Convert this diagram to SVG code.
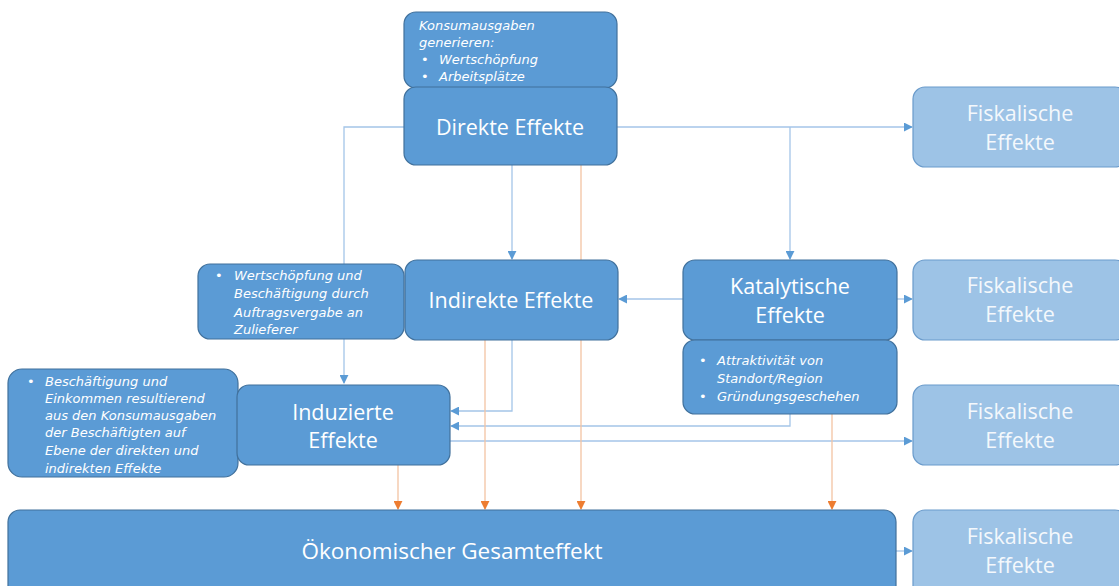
<svg xmlns="http://www.w3.org/2000/svg" width="1119" height="586" viewBox="0 0 1119 586">
  <style>
    .box { fill: #5B9BD5; stroke: #41719C; stroke-width: 1.2; }
    .fis { fill: #9DC3E6; stroke: #6A9BCB; stroke-width: 1.2; }
    .big { font-family: "Open Sans", "Liberation Sans", sans-serif; font-size: 21.5px; fill: #FFFFFF; text-anchor: middle; }
    .fbig { font-family: "Open Sans", "Liberation Sans", sans-serif; font-size: 21.5px; fill: #F4F8FC; text-anchor: middle; }
    .small { font-family: "DejaVu Sans", "Liberation Sans", sans-serif; font-size: 13px; font-style: italic; fill: #FFFFFF; }
    .bl { stroke: #A4C5E8; stroke-width: 1.3; fill: none; }
    .or { stroke: #F3C3A2; stroke-width: 1.3; fill: none; }
  </style>
  <defs>
    <marker id="arrB" viewBox="0 0 10 10" refX="9" refY="5" markerWidth="9" markerHeight="9" markerUnits="userSpaceOnUse" orient="auto">
      <path d="M0,0 L10,5 L0,10 Z" fill="#5B9BD5"/>
    </marker>
    <marker id="arrO" viewBox="0 0 10 10" refX="9" refY="5" markerWidth="9" markerHeight="9" markerUnits="userSpaceOnUse" orient="auto">
      <path d="M0,0 L10,5 L0,10 Z" fill="#ED7D31"/>
    </marker>
  </defs>
  <rect width="1119" height="586" fill="#FFFFFF"/>

  <!-- connectors -->
  <g id="connectors">
    <path class="bl" d="M404,127 H344 V383" marker-end="url(#arrB)"/>
    <path class="bl" d="M512,165 V259" marker-end="url(#arrB)"/>
    <path class="bl" d="M617,127 H912" marker-end="url(#arrB)"/>
    <path class="bl" d="M790,127 V259" marker-end="url(#arrB)"/>
    <path class="bl" d="M683,299 H619" marker-end="url(#arrB)"/>
    <path class="bl" d="M897,299 H912" marker-end="url(#arrB)"/>
    <path class="bl" d="M512,340 V411 H451" marker-end="url(#arrB)"/>
    <path class="bl" d="M790,414 V426 H451" marker-end="url(#arrB)"/>
    <path class="bl" d="M450,441 H912" marker-end="url(#arrB)"/>
    <path class="bl" d="M896,551 H912" marker-end="url(#arrB)"/>
    <path class="or" d="M398,465 V509" marker-end="url(#arrO)"/>
    <path class="or" d="M485,340 V509" marker-end="url(#arrO)"/>
    <path class="or" d="M581,165 V509" marker-end="url(#arrO)"/>
    <path class="or" d="M832,414 V509" marker-end="url(#arrO)"/>
  </g>

  <!-- Konsumausgaben note -->
  <g id="konsum">
    <rect class="box" x="404" y="12" width="213" height="76" rx="12"/>
    <text class="small" x="419" y="30">Konsumausgaben</text>
    <text class="small" x="419" y="47">generieren:</text>
    <text class="small" x="421" y="64">•</text>
    <text class="small" x="439" y="64">Wertschöpfung</text>
    <text class="small" x="421" y="81">•</text>
    <text class="small" x="439" y="81">Arbeitsplätze</text>
  </g>

  <g id="direkte">
    <rect class="box" x="404" y="87" width="213" height="78" rx="12"/>
    <text class="big" x="510" y="135">Direkte Effekte</text>
  </g>

  <g id="wertschoepfung">
    <rect class="box" x="198" y="264" width="206" height="75" rx="12"/>
    <text class="small" x="215" y="280">•</text>
    <text class="small" x="234" y="280">Wertschöpfung und</text>
    <text class="small" x="234" y="298">Beschäftigung durch</text>
    <text class="small" x="234" y="317">Auftragsvergabe an</text>
    <text class="small" x="234" y="334">Zulieferer</text>
  </g>

  <g id="indirekte">
    <rect class="box" x="405" y="260" width="213" height="80" rx="12"/>
    <text class="big" x="511" y="308">Indirekte Effekte</text>
  </g>

  <g id="katalytische">
    <rect class="box" x="683" y="260" width="214" height="80" rx="12"/>
    <text class="big" x="790" y="294">Katalytische</text>
    <text class="big" x="790" y="323">Effekte</text>
  </g>

  <g id="attraktivitaet">
    <rect class="box" x="683" y="340" width="214" height="74" rx="12"/>
    <text class="small" x="699" y="365">•</text>
    <text class="small" x="717" y="365">Attraktivität von</text>
    <text class="small" x="717" y="383">Standort/Region</text>
    <text class="small" x="699" y="401">•</text>
    <text class="small" x="717" y="401">Gründungsgeschehen</text>
  </g>

  <g id="beschaeftigung">
    <rect class="box" x="8" y="369" width="230" height="108" rx="14"/>
    <text class="small" x="27" y="386">•</text>
    <text class="small" x="45" y="386">Beschäftigung und</text>
    <text class="small" x="45" y="403">Einkommen resultierend</text>
    <text class="small" x="45" y="420">aus den Konsumausgaben</text>
    <text class="small" x="45" y="437">der Beschäftigten auf</text>
    <text class="small" x="45" y="455">Ebene der direkten und</text>
    <text class="small" x="45" y="473">indirekten Effekte</text>
  </g>

  <g id="induzierte">
    <rect class="box" x="237" y="385" width="213" height="80" rx="12"/>
    <text class="big" x="343" y="420">Induzierte</text>
    <text class="big" x="343" y="448">Effekte</text>
  </g>

  <g id="gesamteffekt">
    <rect class="box" x="8" y="510" width="888" height="90" rx="12"/>
    <text class="big" x="452" y="559" style="font-size:22.5px">Ökonomischer Gesamteffekt</text>
  </g>

  <g id="fiskalisch1">
    <rect class="fis" x="913" y="87" width="214" height="80" rx="12"/>
    <text class="fbig" x="1020" y="121">Fiskalische</text>
    <text class="fbig" x="1020" y="150">Effekte</text>
  </g>
  <g id="fiskalisch2">
    <rect class="fis" x="913" y="260" width="214" height="80" rx="12"/>
    <text class="fbig" x="1020" y="293">Fiskalische</text>
    <text class="fbig" x="1020" y="322">Effekte</text>
  </g>
  <g id="fiskalisch3">
    <rect class="fis" x="913" y="385" width="214" height="80" rx="12"/>
    <text class="fbig" x="1020" y="419">Fiskalische</text>
    <text class="fbig" x="1020" y="448">Effekte</text>
  </g>
  <g id="fiskalisch4">
    <rect class="fis" x="913" y="510" width="214" height="90" rx="12"/>
    <text class="fbig" x="1020" y="544">Fiskalische</text>
    <text class="fbig" x="1020" y="573">Effekte</text>
  </g>
</svg>
